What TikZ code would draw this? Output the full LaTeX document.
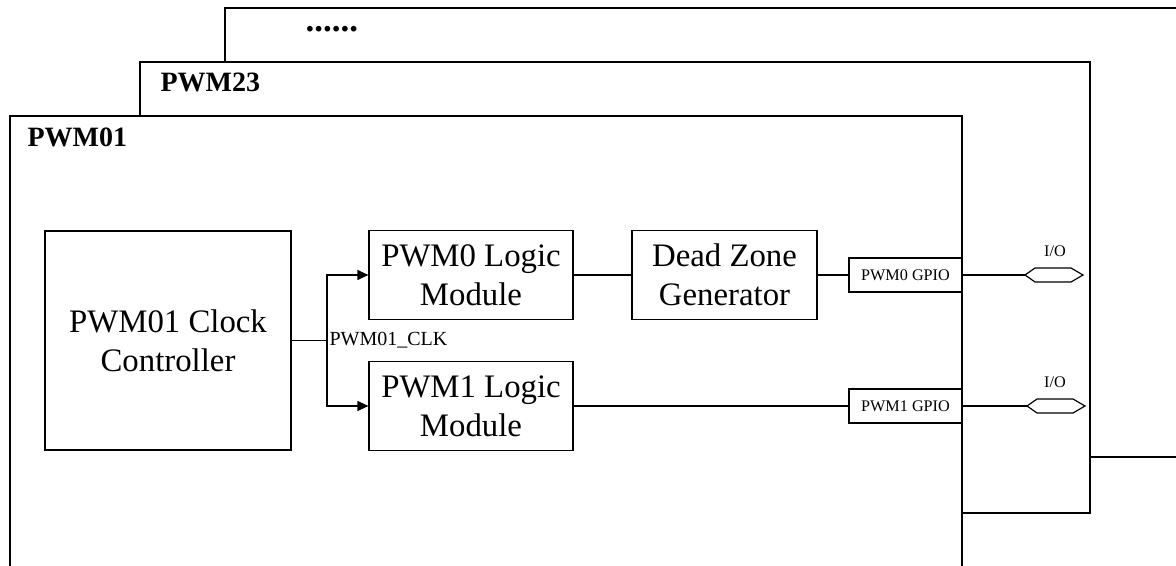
\documentclass[tikz,border=0pt]{standalone}
\usepackage{fontspec}
\setmainfont{Liberation Serif}
\usetikzlibrary{arrows.meta}

\tikzset{
  iopad/.pic={\draw (0,0) -- (10,-7) -- (46,-7) -- (58,0) -- (46,7) -- (10,7) -- cycle;}
}

\begin{document}
\begin{tikzpicture}[x=0.5pt, y=-0.5pt, line width=0.6pt,
  block/.style={draw, align=center, inner sep=0pt, font=\fontsize{16.4}{19.5}\selectfont},
  gpiobox/.style={draw, inner sep=0pt, minimum width=56.5pt, minimum height=17pt, font=\fontsize{8.1}{9}\selectfont},
  frametitle/.style={anchor=base west, inner sep=0pt, font=\bfseries\fontsize{14}{16}\selectfont},
  iolabel/.style={inner sep=0pt, font=\fontsize{8.1}{9}\selectfont},
  clkarrow/.style={-{Triangle[length=5.5pt,width=5pt]}}]

\useasboundingbox (0,0) rectangle (1176,566);
\clip (0,0) rectangle (1176,566);

% Stacked channel frames
\draw[fill=white] (225,8) rectangle (1260,457);
\draw[fill=white] (140,62) rectangle (1090,513);
\draw[fill=white] (10,116) rectangle (962,640);
\node[frametitle, font=\bfseries\fontsize{17.5}{18}\selectfont] (more) at (305,32) {......};
\node[frametitle] (pwm23) at (160,92) {PWM23};
\node[frametitle] (pwm01) at (27,147) {PWM01};

% Blocks
\node[block, minimum width=123pt, minimum height=109.5pt] (clk) at (168,340.5) {PWM01 Clock\\Controller};
\node[block, minimum width=102pt, minimum height=44.5pt] (logic0) at (471,275) {PWM0 Logic\\Module};
\node[block, minimum width=102pt, minimum height=44.5pt] (logic1) at (471,406) {PWM1 Logic\\Module};
\node[block, minimum width=92.5pt, minimum height=44.5pt] (dead) at (724.5,275) {Dead Zone\\Generator};
\node[gpiobox] (gpio0) at (905.5,275) {PWM0 GPIO};
\node[gpiobox] (gpio1) at (905.5,406) {PWM1 GPIO};

% Clock distribution
\coordinate (jn) at (327,340.5);
\draw (clk.east) -- (jn);
\draw[clkarrow] (jn) |- (logic0.west);
\draw[clkarrow] (jn) |- (logic1.west);
\node[iolabel, anchor=west, font=\fontsize{10}{12}\selectfont] (clklabel) at ([xshift=1pt]jn) {PWM01\_CLK};

% Signal path
\draw (logic0.east) -- (dead.west);
\draw (dead.east) -- (gpio0.west);
\draw (logic1.east) -- (gpio1.west);

% I/O pads
\coordinate (pad0) at (1025,275);
\coordinate (pad1) at (1027,406);
\draw (gpio0.east) -- (pad0);
\draw (gpio1.east) -- (pad1);
\pic at (pad0) {iopad};
\pic at (pad1) {iopad};
\node[iolabel] (io0) at (1055,251) {I/O};
\node[iolabel] (io1) at (1055,382) {I/O};

\end{tikzpicture}
\end{document}
